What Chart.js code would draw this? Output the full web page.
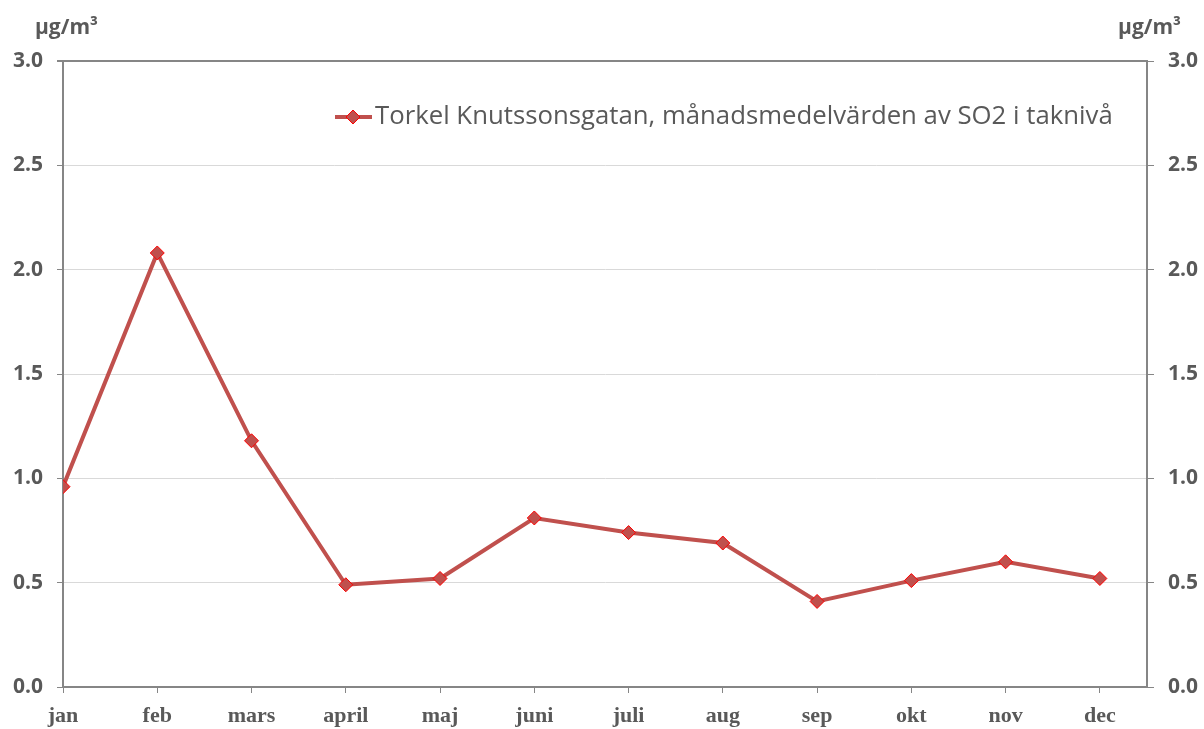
<!DOCTYPE html>
<html>
<head>
<meta charset="utf-8">
<script src="https://cdn.jsdelivr.net/npm/chart.js@4/dist/chart.umd.min.js"></script>
<style>
  html, body { margin: 0; padding: 0; background: #fff; }
  #wrap { width: 1204px; height: 729px; }
</style>
</head>
<body>
<div id="wrap"><canvas id="chart" width="1204" height="729"></canvas></div>
<script>
const months = ['jan', 'feb', 'mars', 'april', 'maj', 'juni', 'juli', 'aug', 'sep', 'okt', 'nov', 'dec'];
const so2 = [0.96, 2.08, 1.18, 0.49, 0.52, 0.81, 0.74, 0.69, 0.41, 0.51, 0.60, 0.52];
const seriesLabel = 'Torkel Knutssonsgatan, månadsmedelvärden av SO2 i taknivå';
const unit = 'µg/m³';

const textColor = '#595959';
const axisColor = '#868686';
const lineColor = '#c0504d';

// unit labels and the legend line with its diamond
const extras = {
  id: 'extras',
  afterDraw(chart) {
    const ctx = chart.ctx;
    ctx.save();
    ctx.fillStyle = textColor;
    ctx.font = 'bold 21px "Open Sans"';
    ctx.textBaseline = 'middle';
    ctx.textAlign = 'left';
    ctx.fillText(unit, 35, 28);
    ctx.textAlign = 'right';
    ctx.fillText(unit, 1181, 28);

    const y = 117;
    const x0 = 335;
    ctx.strokeStyle = lineColor;
    ctx.lineWidth = 4;
    ctx.beginPath();
    ctx.moveTo(x0, y);
    ctx.lineTo(x0 + 37, y);
    ctx.stroke();
    const cx = x0 + 18, r = 7;
    ctx.beginPath();
    ctx.moveTo(cx, y - r);
    ctx.lineTo(cx + r, y);
    ctx.lineTo(cx, y + r);
    ctx.lineTo(cx - r, y);
    ctx.closePath();
    ctx.fillStyle = lineColor;
    ctx.fill();
    ctx.strokeStyle = '#ff0000';
    ctx.lineWidth = 1;
    ctx.stroke();

    let size = 24;
    ctx.font = size + 'px "Open Sans"';
    const w = ctx.measureText(seriesLabel).width;
    size = size * 738 / w;
    ctx.font = size.toFixed(2) + 'px "Open Sans"';
    ctx.fillStyle = textColor;
    ctx.textAlign = 'left';
    ctx.textBaseline = 'middle';
    ctx.fillText(seriesLabel, 375, y);
    ctx.restore();
  }
};

const yTicks = {
  color: textColor,
  font: { family: '"Open Sans"', weight: 'bold', size: 21 },
  stepSize: 0.5,
  padding: 14,
  callback: v => v.toFixed(1)
};

new Chart(document.getElementById('chart'), {
  type: 'line',
  data: {
    datasets: [{
      label: seriesLabel,
      data: so2.map((v, i) => ({ x: i, y: v })),
      borderColor: lineColor,
      borderWidth: 4,
      pointStyle: 'rectRot',
      pointRadius: 7,
      pointBackgroundColor: lineColor,
      pointBorderColor: '#ff0000',
      pointBorderWidth: 1,
      tension: 0
    }]
  },
  options: {
    responsive: false,
    animation: false,
    layout: { padding: { top: 61, left: 0, right: 0, bottom: 0 } },
    plugins: {
      legend: { display: false },
      tooltip: { enabled: false }
    },
    scales: {
      x: {
        type: 'linear',
        min: 0,
        max: 11.5,
        afterBuildTicks: scale => { scale.ticks = months.map((m, i) => ({ value: i })); },
        afterFit: scale => { scale.height = 42; },
        ticks: {
          color: textColor,
          font: { family: '"Liberation Serif"', weight: 'bold', size: 22 },
          padding: 10,
          maxRotation: 0,
          autoSkip: false,
          callback: v => months[v]
        },
        grid: { drawOnChartArea: false, drawTicks: true, tickLength: 6, tickColor: axisColor, lineWidth: 1 },
        border: { color: axisColor, width: 2 }
      },
      y: {
        position: 'left',
        min: 0,
        max: 3,
        afterFit: scale => { scale.width = 63; },
        ticks: yTicks,
        grid: {
          color: c => c.tick && c.tick.value === 3 ? axisColor : '#d9d9d9',
          lineWidth: c => c.tick && c.tick.value === 3 ? 2 : 1,
          tickLength: 6,
          tickColor: axisColor
        },
        border: { color: axisColor, width: 2 }
      },
      y2: {
        position: 'right',
        min: 0,
        max: 3,
        afterFit: scale => { scale.width = 57; },
        ticks: yTicks,
        grid: { drawOnChartArea: false, tickLength: 7, tickColor: axisColor },
        border: { color: axisColor, width: 2 }
      }
    }
  },
  plugins: [extras]
});
</script>
</body>
</html>
